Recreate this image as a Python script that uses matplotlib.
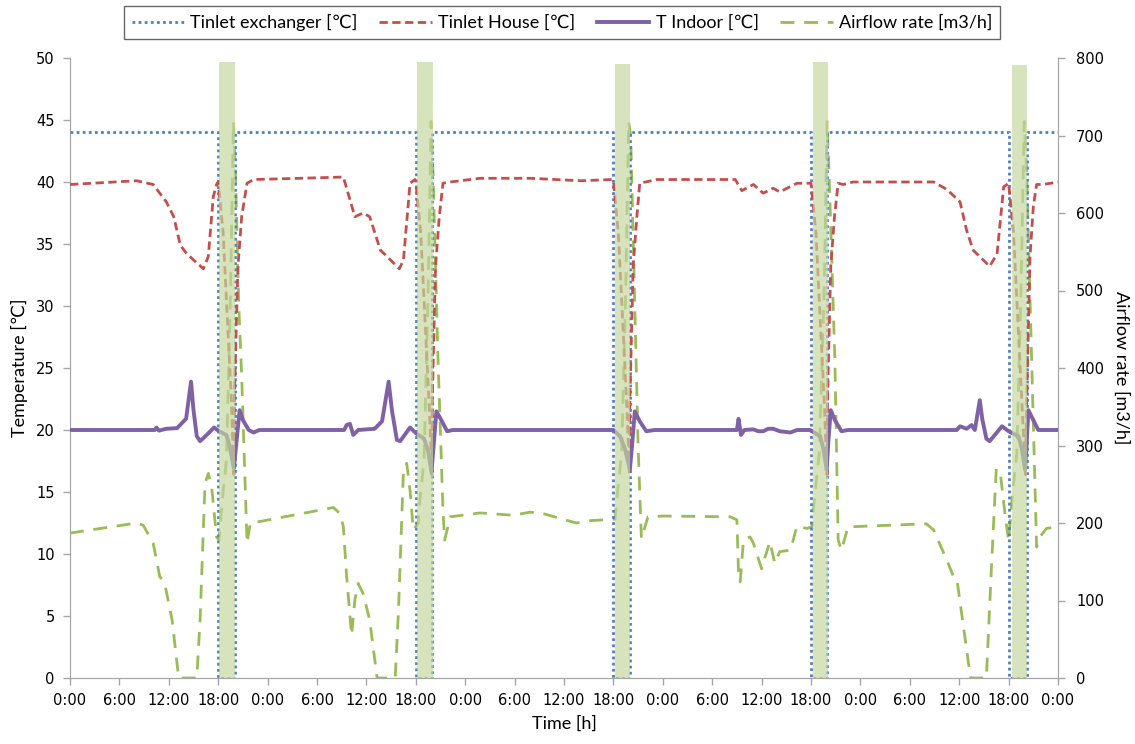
import matplotlib
matplotlib.use("Agg")
import matplotlib.pyplot as plt
from matplotlib.lines import Line2D

# ---------------- data ----------------
hour_ticks = list(range(0, 121, 6))
hour_labels = ["0:00", "6:00", "12:00", "18:00"] * 5 + ["0:00"]

# Tinlet exchanger [°C]
exch_t = [0, 18, 18, 20, 20, 42, 42, 44, 44, 66, 66, 68, 68, 90, 90, 92, 92, 114, 114, 116.2, 116.2, 120]
exch_v = [44, 44, 0, 0, 44, 44, 0, 0, 44, 44, 0, 0, 44, 44, 0, 0, 44, 44, 0, 0, 44, 44]

# Tinlet House [°C]
house_t = [0, 8.1, 10.1, 11.7, 12.6, 13.4, 14.2, 16.2, 16.8, 17.4, 17.8, 18.0, 18.6, 19.2, 19.6, 19.9, 19.95,
           20.4, 20.85, 21.5, 22.3, 28.0, 33.2, 34.6, 35.6, 36.4, 37.7, 38.5, 40.0, 40.5, 41.3, 41.9, 42.0,
           42.6, 43.2, 43.6, 43.95, 44.0, 44.4, 44.85, 45.3, 46.2, 49.8, 55.9, 62.0, 65.9, 66.0,
           66.6, 67.2, 67.6, 67.95, 68.0, 68.4, 68.85, 69.2, 71.3, 80.8, 81.6, 83.0, 84.2, 85.4, 86.2, 88.3, 90.0,
           90.6, 91.2, 91.6, 91.95, 92.0, 92.4, 92.85, 93.3, 93.9, 95.1, 104.9, 106.5, 108.1, 108.9, 109.7,
           111.7, 112.6, 113.4, 114.0, 114.6, 115.2, 115.6, 116.05, 116.2, 116.6, 117.0, 117.4, 118.2, 120]
house_v = [39.8, 40.1, 39.8, 38.4, 37.2, 34.9, 34.2, 33.0, 34.0, 38.8, 39.8, 40.0, 35.9, 27.8, 22.4, 16.4, 22.4,
           33.2, 37.2, 39.9, 40.2, 40.3, 40.4, 37.2, 37.5, 37.2, 34.5, 34.0, 33.0, 33.7, 39.9, 40.2, 40.0,
           35.9, 27.8, 22.4, 16.4, 22.4, 33.2, 37.2, 39.9, 40.0, 40.3, 40.3, 40.1, 40.2, 40.1,
           35.9, 27.8, 22.4, 16.4, 22.4, 33.2, 37.2, 39.9, 40.2, 40.2, 39.3, 39.8, 39.1, 39.5, 39.2, 39.9, 39.9,
           35.9, 27.8, 22.4, 16.4, 22.4, 33.2, 37.2, 39.9, 39.8, 40.0, 40.0, 39.4, 38.4, 36.1, 34.5,
           33.2, 34.2, 39.6, 39.9, 35.9, 27.8, 22.4, 16.4, 22.4, 34.0, 38.0, 39.8, 39.8, 40.0]

# T Indoor [°C]
indoor_t = [0, 10.3, 10.5, 10.8, 11.7, 13.0, 13.8, 14.1, 14.7, 15.0, 15.4, 15.8, 16.6, 17.5, 18.1, 19.0, 19.4,
            19.9, 20.2, 20.6, 21.0, 21.7, 22.3, 23.0,
            33.3, 33.6, 34.0, 34.4, 35.0, 37.0, 37.9, 38.7, 39.1, 39.7, 40.1, 41.3, 42.1, 43.0, 43.5, 43.9,
            44.2, 44.5, 45.1, 45.8, 46.5,
            66.0, 66.8, 67.4, 68.0, 68.3, 68.6, 69.2, 70.0, 71.0, 81.0, 81.2, 81.5, 81.9, 83.0, 83.6, 84.2,
            84.8, 85.4, 86.2, 87.5, 88.3,
            89.9, 91.1, 91.5, 91.9, 92.1, 92.4, 92.9, 93.7, 94.5, 104.9, 107.7, 108.1, 108.9, 109.5, 109.9,
            110.1, 110.5, 110.8, 111.3, 111.7, 113.2, 114.0, 115.2, 115.6, 116.0, 116.2, 116.4, 117.0, 117.6, 120]
indoor_v = [20.0, 20.0, 20.2, 19.95, 20.1, 20.15, 20.7, 20.9, 23.9, 21.6, 19.5, 19.1, 19.6, 20.2, 19.9, 19.6, 18.7,
            16.9, 18.9, 21.6, 20.8, 20.0, 19.8, 20.0,
            20.0, 20.4, 20.5, 19.6, 20.0, 20.1, 20.7, 23.9, 21.6, 19.2, 19.1, 20.2, 19.7, 19.3, 18.3, 16.6,
            19.0, 21.5, 20.8, 19.9, 20.0,
            20.0, 19.5, 18.5, 16.8, 19.0, 21.5, 20.7, 19.9, 20.0, 20.0, 20.9, 19.6, 20.0, 20.05, 19.9, 19.9,
            20.1, 20.1, 19.9, 19.8, 20.0,
            20.0, 19.5, 18.5, 16.8, 19.0, 21.6, 20.8, 19.9, 20.0, 20.0, 20.0, 20.3, 20.1, 20.4, 20.0,
            20.8, 22.4, 20.9, 19.3, 19.1, 20.3, 19.9, 19.5, 18.5, 16.8, 19.0, 21.6, 20.8, 20.0, 20.0]

# Airflow rate [m3/h]
air_t = [0, 8.1, 8.9, 10.1, 10.9, 11.5, 12.4, 13.2, 15.4, 15.8, 16.4, 16.8, 17.2, 17.8, 18.1, 18.5, 19.0, 19.5,
         19.85, 20.1, 20.5, 20.85, 21.5, 21.9, 23.1, 32.0, 32.8, 33.2, 33.6, 34.2, 34.6, 35.0, 35.6, 36.4, 37.3,
         39.5, 39.9, 40.5, 40.9, 41.3, 41.7, 42.3, 42.5, 43.0, 43.5, 43.85, 44.1, 44.7, 45.3, 45.5, 46.2, 49.8,
         53.8, 55.9, 57.5, 61.5, 63.2, 66.2, 66.5, 67.0, 67.5, 67.85, 68.1, 68.6, 69.0, 69.4, 70.2, 72.1, 80.2,
         81.0, 81.2, 81.4, 81.8, 82.6, 83.0, 84.0, 85.0, 85.6, 86.2, 87.5, 88.3, 89.5, 90.1, 90.5, 91.0, 91.6,
         91.95, 92.2, 92.9, 93.3, 93.7, 94.5, 104.0, 104.9, 106.5, 107.3, 107.7, 109.3, 109.4, 111.3, 111.9,
         112.5, 113.0, 113.6, 114.0, 114.5, 115.0, 115.5, 115.9, 116.2, 116.8, 117.4, 117.8, 118.6, 120]
air_v = [187, 200, 197, 174, 131, 122, 75, 0, 0, 75, 251, 264, 247, 182, 178, 230, 281, 500,
         718, 650, 480, 390, 174, 200, 202, 220, 212, 195, 131, 55, 101, 122, 109, 75, 0,
         0, 88, 268, 277, 242, 191, 200, 230, 281, 500, 718, 650, 410, 217, 178, 208, 213,
         210, 214, 212, 200, 203, 205, 240, 290, 500, 718, 700, 480, 300, 180, 208, 209, 208,
         204, 135, 124, 178, 182, 174, 141, 176, 148, 163, 165, 196, 193, 195, 240, 290, 500,
         718, 650, 410, 178, 165, 195, 199, 191, 152, 131, 129, 6, 0, 0, 139,
         270, 264, 208, 178, 240, 290, 500, 718, 650, 410, 169, 182, 193, 195]

# shaded periods (start hour, end hour, top in °C)
shade_start = [18.1, 42.2, 66.2, 90.3, 114.4]
shade_end = [20.0, 44.1, 68.0, 92.1, 116.2]
shade_top = [49.7, 49.7, 49.5, 49.7, 49.4]

# ---------------- plot ----------------
label_font = ["Lato", "DejaVu Sans"]
plt.rcParams["font.family"] = ["DejaVu Sans"]

fig = plt.figure(figsize=(11.35, 7.44), dpi=100)
ax = fig.add_axes([70 / 1135, 66 / 744, 988 / 1135, 620 / 744])
ax2 = ax.twinx()

c_blue = "#4f81bd"
c_red = "#c0504d"
c_purple = "#7f62a6"
c_green = "#9bbb59"

ls_blue = (0, (1, 1.2))
ls_red = (0, (3, 1.6))
ls_green = (0, (5, 3.5))

ax.plot(exch_t, exch_v, color=c_blue, lw=2.0, linestyle=ls_blue, zorder=3)
ax.plot(house_t, house_v, color=c_red, lw=2.0, linestyle=ls_red, zorder=3)
ax.plot(indoor_t, indoor_v, color=c_purple, lw=2.8, zorder=3)
ax2.plot(air_t, air_v, color=c_green, lw=2.0, linestyle=ls_green, zorder=3)

ax.set_zorder(2)
ax.patch.set_visible(False)
ax2.set_zorder(1)

for s, e, top in zip(shade_start, shade_end, shade_top):
    ax.fill_between([s, e], [0, 0], [top, top], color="#c3d79e", alpha=0.68, lw=0, zorder=5)

ax.set_xlim(0, 120)
ax.set_ylim(0, 50)
ax2.set_ylim(0, 800)
ax.set_xticks(hour_ticks)
ax.set_xticklabels(hour_labels)
ax.set_yticks(range(0, 51, 5))
ax2.set_yticks(range(0, 801, 100))

spine_c = "#a6a6a6"
for a in (ax, ax2):
    a.spines["top"].set_visible(False)
    for side in ("left", "right", "bottom"):
        a.spines[side].set_color(spine_c)
    a.tick_params(colors=spine_c, labelcolor="black", labelsize=10.5, length=5, width=1)
ax.tick_params(axis="x", pad=6)
ax.tick_params(axis="y", pad=6)
ax2.tick_params(axis="y", pad=8)

lab_size = 13
ax.set_ylabel("Temperature [℃]", family=label_font, fontsize=lab_size, labelpad=6)
ax2.set_ylabel("Airflow rate [m3/h]", family=label_font, fontsize=lab_size, rotation=270, labelpad=18)
ax.set_xlabel("Time [h]", family=label_font, fontsize=lab_size, labelpad=5)

handles = [
    Line2D([], [], color=c_blue, lw=2.0, linestyle=ls_blue),
    Line2D([], [], color=c_red, lw=2.0, linestyle=ls_red),
    Line2D([], [], color=c_purple, lw=2.8),
    Line2D([], [], color=c_green, lw=2.0, linestyle=ls_green),
]
labels = ["Tinlet exchanger [℃]", "Tinlet House [℃]", "T Indoor [℃]", "Airflow rate [m3/h]"]
leg = fig.legend(handles, labels, loc="center", bbox_to_anchor=(562 / 1135, 1 - 22.5 / 744), ncol=4,
                 frameon=True, fancybox=False, edgecolor="#404040", handlelength=2.9, handletextpad=0.35,
                 columnspacing=1.2, borderpad=0.45, prop={"family": label_font, "size": lab_size})
leg.get_frame().set_linewidth(1.0)

fig.savefig("out.png", dpi=100)
